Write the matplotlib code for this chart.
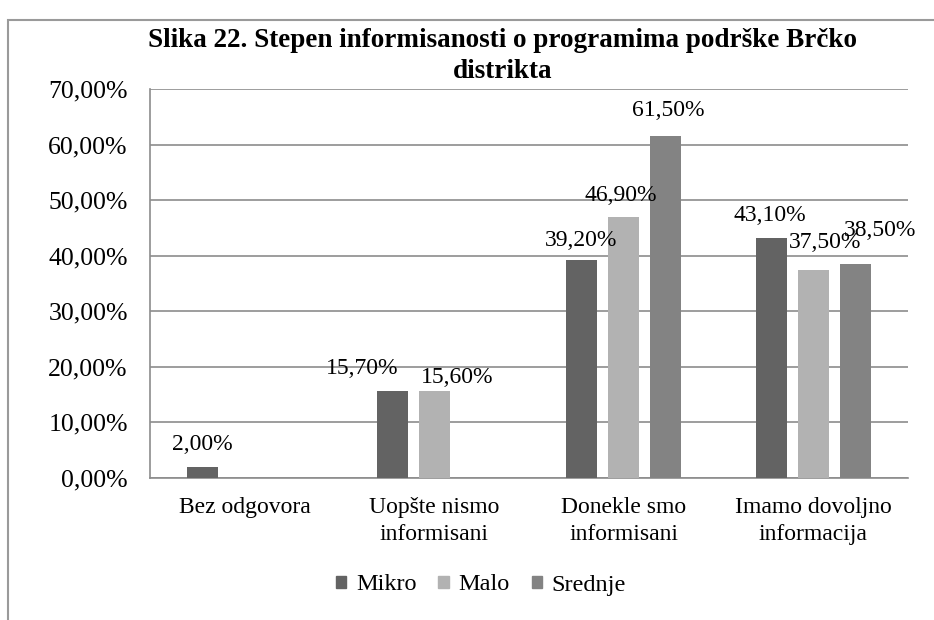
import matplotlib
matplotlib.use("Agg")
import matplotlib.pyplot as plt
from matplotlib.patches import Patch, Rectangle
from matplotlib.ticker import FuncFormatter
import numpy as np

plt.rcParams['font.family'] = ['Liberation Serif', 'DejaVu Serif']

categories = ["Bez odgovora", "Uopšte nismo\ninformisani",
              "Donekle smo\ninformisani", "Imamo dovoljno\ninformacija"]
series = ["Mikro", "Malo", "Srednje"]
mikro = [2.0, 15.7, 39.2, 43.1]
malo = [np.nan, 15.6, 46.9, 37.5]
srednje = [np.nan, np.nan, 61.5, 38.5]
colors = ["#636363", "#b2b2b2", "#838383"]

# label offsets in pixels (dx, dy above bar top), as placed in the original
label_offsets = [
    [(0, 22), (-30, 22), (-1, 20), (-1, 23)],
    [None, (23, 14), (-3, 22), (12, 27)],
    [None, None, (2, 26), (25, 34)],
]

fig = plt.figure(figsize=(9.34, 6.2), dpi=100)
ax = fig.add_axes([150 / 934, 1 - 478 / 620, 758 / 934, 389 / 620])

x = np.arange(len(categories))
width = 0.165
step = 0.222
for i, (name, vals) in enumerate(zip(series, [mikro, malo, srednje])):
    pos = x + (i - 1) * step
    ax.bar(pos, vals, width, color=colors[i], label=name, zorder=3)
    for j, v in enumerate(vals):
        if np.isnan(v):
            continue
        dx, dy = label_offsets[i][j]
        ax.annotate(f"{v:.2f}%".replace(".", ","), (pos[j], v),
                    xytext=(dx * 0.72, dy * 0.72), textcoords="offset points",
                    ha="center", va="center", fontsize=17, zorder=4)

ax.set_xlim(-0.5, 3.5)
ax.set_ylim(0, 70)
ax.set_yticks(np.arange(0, 71, 10))
ax.yaxis.set_major_formatter(FuncFormatter(lambda v, p: f"{v:.2f}%".replace(".", ",")))
ax.set_xticks(x)
ax.set_xticklabels(categories, linespacing=1.35)
ax.tick_params(axis="both", length=0)
ax.tick_params(axis="x", labelsize=17, pad=14)
ax.tick_params(axis="y", labelsize=18.5, pad=16)
ax.grid(axis="y", color="#8c8c8c", linewidth=1.2, zorder=0)
for s in ["top", "right"]:
    ax.spines[s].set_visible(False)
for s in ["left", "bottom"]:
    ax.spines[s].set_color("#8c8c8c")
    ax.spines[s].set_linewidth(1.2)

fig.text(503 / 934, 1 - 56 / 620, "Slika 22. Stepen informisanosti o programima podrške Brčko\ndistrikta",
         ha="center", va="center", fontsize=19.5, fontweight="bold", linespacing=1.3)

handles = [Patch(color=c, label=n) for c, n in zip(colors, series)]
fig.legend(handles=handles, loc="center", bbox_to_anchor=(481 / 934, 1 - 585 / 620),
           ncol=3, frameon=False, fontsize=17.5, handlelength=0.42, handleheight=0.42,
           handletextpad=0.4, columnspacing=0.9)

fig.patches.append(Rectangle((8 / 934, -0.1), 1.2, 1.084 - 10 / 620,
                             transform=fig.transFigure, fill=False,
                             edgecolor="#9a9a9a", linewidth=1.5))

fig.savefig("out.png", dpi=100, facecolor="white")
